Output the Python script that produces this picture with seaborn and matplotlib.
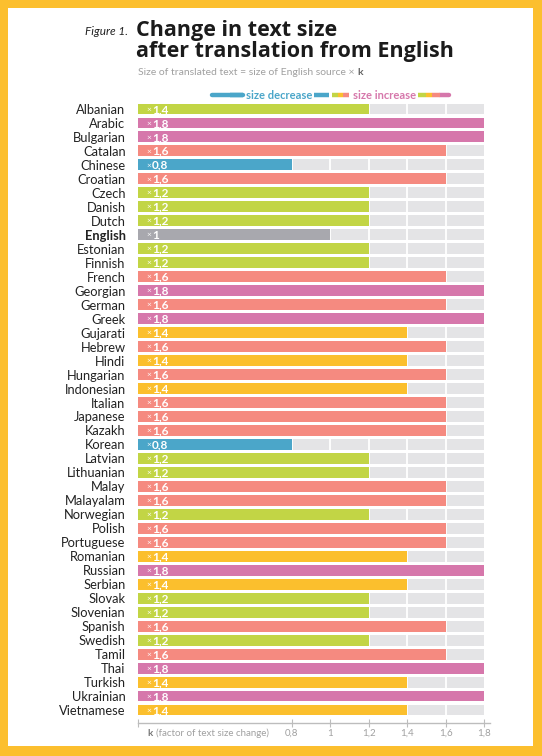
import matplotlib
matplotlib.use("Agg")
import matplotlib.pyplot as plt
import seaborn as sns
from matplotlib.patches import Rectangle
from matplotlib.lines import Line2D

# Languages and their text size factor k
languages = [
    "Albanian", "Arabic", "Bulgarian", "Catalan", "Chinese", "Croatian", "Czech",
    "Danish", "Dutch", "English", "Estonian", "Finnish", "French", "Georgian",
    "German", "Greek", "Gujarati", "Hebrew", "Hindi", "Hungarian", "Indonesian",
    "Italian", "Japanese", "Kazakh", "Korean", "Latvian", "Lithuanian", "Malay",
    "Malayalam", "Norwegian", "Polish", "Portuguese", "Romanian", "Russian",
    "Serbian", "Slovak", "Slovenian", "Spanish", "Swedish", "Tamil", "Thai",
    "Turkish", "Ukrainian", "Vietnamese",
]
k_values = [
    1.2, 1.8, 1.8, 1.6, 0.8, 1.6, 1.2,
    1.2, 1.2, 1.0, 1.2, 1.2, 1.6, 1.8,
    1.6, 1.8, 1.4, 1.6, 1.4, 1.6, 1.4,
    1.6, 1.6, 1.6, 0.8, 1.2, 1.2, 1.6,
    1.6, 1.2, 1.6, 1.6, 1.4, 1.8,
    1.4, 1.2, 1.2, 1.6, 1.2, 1.6, 1.8,
    1.4, 1.8, 1.4,
]
# label text as printed on the bars (Albanian is printed 1,4 in the original)
k_labels = [
    "1,4", "1,8", "1,8", "1,6", "0,8", "1,6", "1,2",
    "1,2", "1,2", "1", "1,2", "1,2", "1,6", "1,8",
    "1,6", "1,8", "1,4", "1,6", "1,4", "1,6", "1,4",
    "1,6", "1,6", "1,6", "0,8", "1,2", "1,2", "1,6",
    "1,6", "1,2", "1,6", "1,6", "1,4", "1,8",
    "1,4", "1,2", "1,2", "1,6", "1,2", "1,6", "1,8",
    "1,4", "1,8", "1,4",
]
k_max = 1.8
tick_values = [0, 0.8, 1.0, 1.2, 1.4, 1.6, 1.8]
tick_labels = ["", "0,8", "1", "1,2", "1,4", "1,6", "1,8"]

# colour per k value
k_colors = {
    0.8: "#4ba6c9",
    1.0: "#a8a8ae",
    1.2: "#c2d545",
    1.4: "#fbbf2d",
    1.6: "#f58a80",
    1.8: "#d677ab",
}
frame_yellow = "#fcbf2e"
track_gray = "#e4e4e6"
label_dark = "#222222"
soft_gray = "#a0a0a0"

sns.set_theme(style="white")
plt.rcParams["font.family"] = ["Lato", "DejaVu Sans"]

W, H = 542, 756
fig = plt.figure(figsize=(W / 100, H / 100), dpi=100, facecolor=frame_yellow)


def fx(px):
    return px / W


def fy(py):
    return 1 - py / H


# white panel inside the yellow frame
fig.patches.append(Rectangle((fx(8), fy(746)), fx(533) - fx(8), fy(8) - fy(746),
                             transform=fig.transFigure, facecolor="white",
                             edgecolor="none", zorder=-10))

x_end = 1.83
px_per_k = (484 - 138) / k_max
ax = fig.add_axes([fx(138), fy(717), fx(px_per_k * x_end), fy(102) - fy(717)])
ax.set_facecolor("none")
ax.set_zorder(1)

# gray track behind every bar
sns.barplot(x=[k_max] * len(languages), y=languages, color=track_gray,
            saturation=1, width=0.78, orient="h", ax=ax, zorder=1, linewidth=0)
# white separators every 0.2
for t in [0.2 * i for i in range(1, 9)]:
    ax.axvline(t, color="white", lw=1.3, zorder=2)
# coloured bars
bar_colors = [k_colors[v] for v in k_values]
sns.barplot(x=k_values, y=languages, hue=languages, palette=bar_colors,
            saturation=1, legend=False, width=0.78, orient="h", ax=ax,
            zorder=3, linewidth=0)

for i, lab in enumerate(k_labels):
    ax.text(0.042, i, "×", color="white", fontsize=6, va="center", ha="left",
            zorder=4, alpha=0.9)
    ax.text(0.074, i + 0.03, lab, color="white", fontsize=8.5, fontweight="bold",
            va="center", ha="left", zorder=4)

ax.set_xlim(0, x_end)
ax.set_ylim(len(languages) - 0.5, -0.5)
ax.set_xlabel("")
ax.set_ylabel("")

for side in ["top", "right", "left"]:
    ax.spines[side].set_visible(False)
ax.spines["bottom"].set_position(("outward", 4.5))
ax.spines["bottom"].set_color("#bdbdbd")
ax.spines["bottom"].set_linewidth(1.0)

ax.set_xticks(tick_values)
ax.set_xticklabels(tick_labels)
ax.tick_params(axis="x", direction="inout", length=6, width=0.8, color="#bdbdbd",
               labelsize=7, labelcolor=soft_gray, pad=1, bottom=True)
ax.tick_params(axis="y", length=0, pad=9, labelsize=9.3, labelcolor=label_dark)
for t in ax.get_yticklabels():
    if t.get_text() == "English":
        t.set_fontweight("bold")

# axis caption on the left of the x axis
fig.text(fx(147), fy(733), "k", fontsize=7, fontweight="bold", color="#777777",
         va="center", ha="left")
fig.text(fx(156), fy(733), "(factor of text size change)", fontsize=7,
         color=soft_gray, va="center", ha="left")

# titles
title_font = ["Open Sans", "DejaVu Sans"]
fig.text(fx(128), fy(35), "Figure 1.", fontsize=8.5, style="italic",
         color=label_dark, ha="right", va="baseline")
fig.text(fx(136), fy(36), "Change in text size", fontsize=15.5, family=title_font,
         fontweight="bold", color="#1b1b1b", ha="left", va="baseline")
fig.text(fx(136), fy(57), "after translation from English", fontsize=15.5,
         family=title_font, fontweight="bold", color="#1b1b1b", ha="left",
         va="baseline")
sub = fig.text(fx(138), fy(75), "Size of translated text = size of English source × ",
               fontsize=7.5, color=soft_gray, ha="left", va="baseline")
fig.canvas.draw()
bb = sub.get_window_extent(fig.canvas.get_renderer())
fig.text(bb.x1 / W, fy(75), "k", fontsize=7.5, fontweight="bold", color="#666666",
         ha="left", va="baseline")


# legend strip
def strip(x0, x1, color, cap="butt"):
    fig.add_artist(Line2D([fx(x0), fx(x1)], [fy(95), fy(95)], color=color,
                          lw=3.2, solid_capstyle=cap, transform=fig.transFigure))


strip(212, 243, k_colors[0.8], "round")
strip(230, 243, k_colors[0.8])
fig.text(fx(246), fy(95.5), "size decrease", fontsize=8, fontweight="bold",
         color=k_colors[0.8], ha="left", va="center")
strip(314, 329, k_colors[0.8])
strip(332, 338, k_colors[1.2])
strip(338, 343, k_colors[1.4])
strip(343, 349, k_colors[1.6])
fig.text(fx(353), fy(95.5), "size increase", fontsize=8, fontweight="bold",
         color=k_colors[1.8], ha="left", va="center")
strip(440, 449, k_colors[1.8], "round")
strip(418, 426, k_colors[1.2])
strip(426, 432, k_colors[1.4])
strip(432, 440, k_colors[1.6])

fig.savefig("out.png", dpi=100, facecolor=frame_yellow)
